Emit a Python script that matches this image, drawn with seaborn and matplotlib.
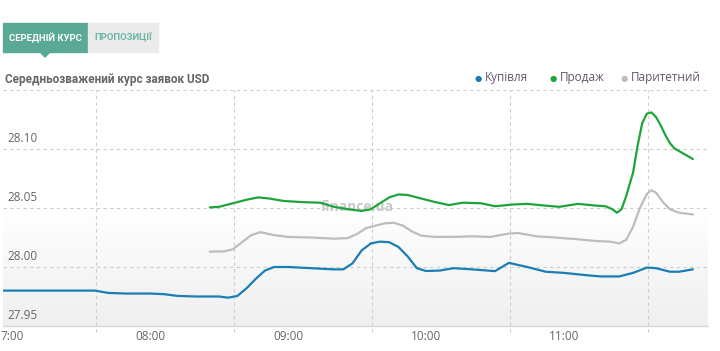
import numpy as np
import pandas as pd
import seaborn as sns
import matplotlib.pyplot as plt
from matplotlib.patches import Rectangle, Polygon
from matplotlib.colors import LinearSegmentedColormap

# --- data ---
buy_times = ["06:56", "07:30", "07:36", "07:42", "07:50", "08:00", "08:06", "08:12", "08:20",
             "08:30", "08:34", "08:38", "08:42", "08:46", "08:50", "08:54", "09:00", "09:10",
             "09:20", "09:24", "09:28", "09:32", "09:36", "09:40", "09:44", "09:48", "09:52",
             "09:56", "10:00", "10:06", "10:12", "10:20", "10:30", "10:36", "10:44", "10:52",
             "11:00", "11:10", "11:16", "11:24", "11:30", "11:36", "11:40", "11:46", "11:50",
             "11:56"]
buy_vals = [27.980, 27.980, 27.980, 27.978, 27.9775, 27.9775, 27.977, 27.9755, 27.975,
            27.975, 27.974, 27.9755, 27.982, 27.990, 27.997, 28.000, 28.000, 27.999,
            27.998, 27.998, 28.003, 28.014, 28.020, 28.0215, 28.021, 28.017, 28.009,
            27.999, 27.9966, 27.997, 27.999, 27.998, 27.9965, 28.0035, 28.000, 27.996,
            27.995, 27.993, 27.992, 27.992, 27.995, 27.9995, 27.999, 27.996, 27.996,
            27.998]

sell_times = ["08:26", "08:30", "08:36", "08:42", "08:47", "08:52", "08:58", "09:06", "09:14",
              "09:20", "09:26", "09:32", "09:36", "09:40", "09:44", "09:48", "09:52", "09:58",
              "10:04", "10:10", "10:16", "10:24", "10:30", "10:38", "10:44", "10:52", "10:58",
              "11:06", "11:14", "11:18", "11:21", "11:23", "11:25", "11:27", "11:30", "11:32",
              "11:34", "11:36", "11:38", "11:40", "11:42", "11:44", "11:46", "11:48", "11:52",
              "11:56"]
sell_vals = [28.0505, 28.051, 28.054, 28.057, 28.059, 28.058, 28.056, 28.055, 28.0545,
             28.051, 28.049, 28.0475, 28.049, 28.054, 28.059, 28.0615, 28.061, 28.058,
             28.055, 28.0525, 28.0545, 28.054, 28.0515, 28.053, 28.0535, 28.052, 28.051,
             28.0535, 28.052, 28.0515, 28.049, 28.046, 28.049, 28.060, 28.080, 28.103,
             28.122, 28.130, 28.131, 28.127, 28.120, 28.112, 28.105, 28.1005, 28.096,
             28.0915]

par_times = ["08:26", "08:32", "08:36", "08:40", "08:44", "08:48", "08:54", "09:00", "09:10",
             "09:20", "09:26", "09:30", "09:34", "09:38", "09:42", "09:46", "09:50", "09:54",
             "09:58", "10:04", "10:12", "10:20", "10:28", "10:36", "10:40", "10:48", "10:56",
             "11:06", "11:14", "11:20", "11:24", "11:27", "11:30", "11:33", "11:36", "11:38",
             "11:40", "11:43", "11:46", "11:50", "11:56"]
par_vals = [28.013, 28.0132, 28.015, 28.021, 28.027, 28.0295, 28.027, 28.0255, 28.025,
            28.024, 28.0245, 28.028, 28.033, 28.035, 28.037, 28.0375, 28.035, 28.030,
            28.0265, 28.0255, 28.0255, 28.026, 28.0255, 28.0283, 28.0288, 28.026, 28.025,
            28.0235, 28.022, 28.0215, 28.020, 28.023, 28.034, 28.050, 28.062, 28.065,
            28.063, 28.055, 28.049, 28.046, 28.0445]

series_names = ["Купівля", "Продаж", "Паритетний"]
series_colors = ["#1a7db3", "#1ea53a", "#bdbdbd"]
y_ticks = [27.95, 28.00, 28.05, 28.10]
x_ticks = [7, 8, 9, 10, 11]
x_labels = ["7:00", "08:00", "09:00", "10:00", "11:00"]
grid_x = [7.61, 8.61, 9.61, 10.61, 11.61]


def to_hours(times):
    return [int(t[:2]) + int(t[3:]) / 60 for t in times]


df = pd.concat([
    pd.DataFrame({"time": to_hours(buy_times), "rate": buy_vals, "series": series_names[0]}),
    pd.DataFrame({"time": to_hours(sell_times), "rate": sell_vals, "series": series_names[1]}),
    pd.DataFrame({"time": to_hours(par_times), "rate": par_vals, "series": series_names[2]}),
])

sns.set_style("white")
plt.rcParams['font.family'] = ['Open Sans', 'DejaVu Sans']

fig = plt.figure(figsize=(7.2, 3.51), dpi=100)
ax = fig.add_axes([3 / 720, 1 - 326 / 351, 705 / 720, 236 / 351])

x0, x1 = 6.935, 12.043
y0, y1 = 27.95, 28.15

# light gradient band below 28.05 (white at top, grey at the bottom)
cmap = LinearSegmentedColormap.from_list("band", ["#ffffff", "#efefef"])
grad = np.linspace(1, 0, 100).reshape(-1, 1)
ax.imshow(grad, extent=[x0, x1, 27.95, 28.05], aspect="auto", cmap=cmap,
          origin="lower", zorder=0)

sns.lineplot(data=df, x="time", y="rate", hue="series", palette=series_colors,
             linewidth=1.6, legend=False, ax=ax, zorder=3)

ax.set_xlim(x0, x1)
ax.set_ylim(y0, y1)
ax.set_xlabel("")
ax.set_ylabel("")
ax.set_yticks([])
ax.set_xticks(x_ticks)
ax.set_xticklabels(x_labels, color="#666666", fontsize=8.5)
ax.tick_params(axis="x", length=0, pad=3)
for s in ["top", "left", "right"]:
    ax.spines[s].set_visible(False)
ax.spines["bottom"].set_color("#d8d8d8")
ax.spines["bottom"].set_linewidth(1)

# dashed grid
for yv in [28.00, 28.05, 28.10, 28.15]:
    ax.axhline(yv, color="#cccccc", lw=0.8, ls=(0, (3, 3)), zorder=1)
for xv in grid_x:
    ax.plot([xv, xv], [27.95 - 0.005, 28.15], color="#cccccc", lw=0.8,
            ls=(0, (3, 3)), zorder=1, clip_on=False)

# y labels sit above the grid lines
for yv in y_ticks:
    ax.text(0.007, yv + 0.0035, f"{yv:.2f}", transform=ax.get_yaxis_transform(),
            ha="left", va="bottom", color="#666666", fontsize=8.5)

# watermark
ax.text(9.5, 28.0505, "finance.ua", color="#c8c8c8", fontsize=10, fontweight="bold",
        ha="center", va="center", zorder=2)

# tabs
fig.patches.append(Rectangle((3 / 720, 1 - 52 / 351), 85 / 720, 29 / 351,
                             transform=fig.transFigure, color="#5aa896"))
fig.patches.append(Rectangle((88 / 720, 1 - 52 / 351), 70 / 720, 29 / 351,
                             transform=fig.transFigure, color="#ebebeb"))
fig.patches.append(Polygon([(40 / 720, 1 - 52 / 351), (50 / 720, 1 - 52 / 351),
                            (45 / 720, 1 - 57 / 351)], closed=True,
                           transform=fig.transFigure, color="#5aa896"))
tab_font = ['Roboto', 'DejaVu Sans']
fig.text(45.5 / 720, 1 - 38 / 351, "СЕРЕДНІЙ КУРС", color="white", fontsize=6.8,
         fontweight="bold", family=tab_font, ha="center", va="center")
fig.text(123 / 720, 1 - 38 / 351, "ПРОПОЗИЦІЇ", color="#6bb5a2", fontsize=6.8,
         fontweight="bold", family=tab_font, ha="center", va="center")

# chart title
fig.text(5 / 720, 1 - 79 / 351, "Середньозважений курс заявок USD", color="#666666",
         fontsize=8.5, fontweight="bold", family=['Roboto', 'DejaVu Sans'],
         ha="left", va="center")

# legend
leg_x = [478, 553, 624]
for lx, name, col in zip(leg_x, series_names, series_colors):
    fig.text(lx / 720, 1 - 78 / 351, "●", color=col, fontsize=6,
             ha="center", va="center", family="DejaVu Sans")
    fig.text((lx + 7) / 720, 1 - 78 / 351, name, color="#65566b", fontsize=8.5,
             ha="left", va="center")

fig.savefig("out.png", dpi=100)
